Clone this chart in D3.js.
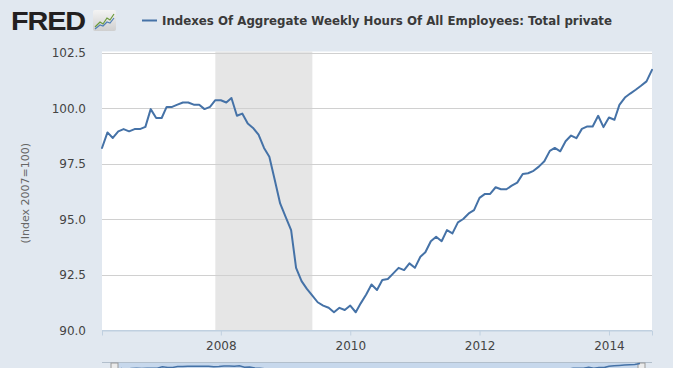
<!DOCTYPE html>
<html>
<head>
<meta charset="utf-8">
<script src="https://cdn.jsdelivr.net/npm/d3@7"></script>
<style>
  html, body { margin: 0; padding: 0; background: #e1e8f0; }
  svg { display: block; }
</style>
</head>
<body>
<svg id="chart" width="673" height="368"></svg>
<script>
// ---- Data ----
const seriesTitle = "Indexes Of Aggregate Weekly Hours Of All Employees: Total private";
const yAxisTitle = "(Index 2007=100)";
const startMonth = "2006-03-01";
const endMonth = "2014-09-01";
const values = [
  // 2006 Mar-Dec
  98.2, 98.9, 98.65, 98.95, 99.05, 98.95, 99.05, 99.05, 99.15, 99.95,
  // 2007
  99.55, 99.55, 100.05, 100.05, 100.15, 100.25, 100.25, 100.15, 100.15, 99.95, 100.05, 100.35,
  // 2008
  100.35, 100.25, 100.45, 99.65, 99.75, 99.3, 99.1, 98.8, 98.2, 97.8, 96.75, 95.7,
  // 2009
  95.1, 94.5, 92.8, 92.2, 91.85, 91.55, 91.25, 91.1, 91.0, 90.8, 91.0, 90.9,
  // 2010
  91.1, 90.8, 91.2, 91.6, 92.05, 91.8, 92.25, 92.3, 92.55, 92.8, 92.7, 93.0,
  // 2011
  92.8, 93.3, 93.5, 94.0, 94.2, 94.0, 94.5, 94.35, 94.85, 95.0, 95.25, 95.4,
  // 2012
  95.95, 96.13, 96.13, 96.43, 96.34, 96.34, 96.5, 96.64, 97.03, 97.06, 97.17, 97.36,
  // 2013
  97.6, 98.07, 98.2, 98.05, 98.5, 98.76, 98.64, 99.06, 99.17, 99.17, 99.65, 99.14,
  // 2014 Jan-Sep
  99.57, 99.47, 100.14, 100.47, 100.65, 100.82, 101.0, 101.2, 101.72
];
const recessionStart = "2007-12-01";
const recessionEnd = "2009-06-01";
const yTicks = [90.0, 92.5, 95.0, 97.5, 100.0, 102.5];
const xTickYears = [2008, 2010, 2012, 2014];

// ---- Layout ----
const plot = { left: 102, right: 652, top: 52.5, bottom: 330 };
const svg = d3.select("#chart");
const parse = d3.utcParse("%Y-%m-%d");
const months = d3.utcMonth.range(parse(startMonth), d3.utcMonth.offset(parse(endMonth), 1));
const data = months.map((d, i) => ({ date: d, value: values[i] }));

const x = d3.scaleUtc().domain([parse(startMonth), parse(endMonth)]).range([plot.left, plot.right]);
const y = d3.scaleLinear().domain([90, 102.5]).range([plot.bottom, plot.top]);

// Plot background
svg.append("rect")
  .attr("x", plot.left).attr("y", y(102.5) - 1)
  .attr("width", plot.right - plot.left).attr("height", plot.bottom - y(102.5) + 1)
  .attr("fill", "#ffffff");

// Recession band
svg.append("rect")
  .attr("x", x(parse(recessionStart))).attr("y", y(102.5) - 1)
  .attr("width", x(parse(recessionEnd)) - x(parse(recessionStart)))
  .attr("height", plot.bottom - y(102.5) + 1)
  .attr("fill", "#e6e6e6");

// Gridlines
svg.append("g").selectAll("line").data(yTicks).join("line")
  .attr("x1", plot.left).attr("x2", plot.right)
  .attr("y1", d => Math.round(y(d)) + 0.5).attr("y2", d => Math.round(y(d)) + 0.5)
  .attr("stroke", d => d === 90 ? "#c0d0e0" : "#d0d0d0").attr("stroke-width", 1);

// Y tick labels
svg.append("g").selectAll("text").data(yTicks).join("text")
  .attr("x", 86).attr("y", d => y(d)).attr("dy", "0.38em")
  .attr("text-anchor", "end")
  .attr("font-family", "DejaVu Sans, Verdana, sans-serif").attr("font-size", 12)
  .attr("fill", "#444")
  .text(d => d.toFixed(1));

// Y axis title
svg.append("text")
  .attr("transform", `translate(29, ${(y(102.5) + plot.bottom) / 2 + 2}) rotate(-90)`)
  .attr("text-anchor", "middle")
  .attr("font-family", "DejaVu Sans, Verdana, sans-serif").attr("font-size", 11)
  .attr("fill", "#666")
  .text(yAxisTitle);

// X axis
const xTickDates = xTickYears.map(yr => new Date(Date.UTC(yr, 0, 1)));
const xAxis = d3.axisBottom(x).tickValues(xTickDates).tickSize(5).tickFormat(d3.utcFormat("%Y"));
const gx = svg.append("g").attr("transform", `translate(0, ${plot.bottom + 0.5})`).call(xAxis);
gx.select(".domain").attr("stroke", "#c0d0e0");
gx.selectAll(".tick line").attr("stroke", "#c0d0e0");
gx.selectAll(".tick text")
  .attr("font-family", "DejaVu Sans, Verdana, sans-serif").attr("font-size", 12)
  .attr("fill", "#444").attr("dy", "0.95em");

// Series line
const line = d3.line().x(d => x(d.date)).y(d => y(d.value));
svg.append("path").datum(data)
  .attr("d", line)
  .attr("fill", "none").attr("stroke", "#4572a7").attr("stroke-width", 2)
  .attr("stroke-linejoin", "round").attr("stroke-linecap", "round");

// Navigator strip (partially visible at bottom)
svg.append("line")
  .attr("x1", plot.left).attr("x2", plot.right).attr("y1", 362.5).attr("y2", 362.5)
  .attr("stroke", "#b2bfcc");
svg.append("rect")
  .attr("x", 116).attr("y", 363).attr("width", 524).attr("height", 6)
  .attr("fill", "#c7d8ec");
svg.append("rect").attr("x", 111).attr("y", 363).attr("width", 7).attr("height", 6)
  .attr("fill", "#ebebeb").attr("stroke", "#999");
svg.append("rect").attr("x", 638).attr("y", 363).attr("width", 7).attr("height", 6)
  .attr("fill", "#ebebeb").attr("stroke", "#999");
const navY = d3.scaleLinear().domain([90, 102.5]).range([385, 362]);
const navLine = d3.line().x(d => 116 + (x(d.date) - plot.left) * 524 / (plot.right - plot.left)).y(d => navY(d.value));
svg.append("path").datum(data).attr("d", navLine)
  .attr("fill", "none").attr("stroke", "#4572a7").attr("stroke-width", 1.5);

// FRED logo
svg.append("text")
  .attr("x", 11).attr("y", 30)
  .attr("font-family", "Liberation Sans, Arial, sans-serif").attr("font-weight", "900")
  .attr("font-size", 26).attr("fill", "#231f20")
  .attr("textLength", 74).attr("lengthAdjust", "spacingAndGlyphs")
  .style("letter-spacing", "-1px")
  .text("FRED");
const icon = svg.append("g").attr("transform", "translate(93,10)");
const grad = svg.append("defs").append("linearGradient").attr("id", "ig").attr("x1", 0).attr("y1", 0).attr("x2", 0).attr("y2", 1);
grad.append("stop").attr("offset", 0).attr("stop-color", "#f4f4f4");
grad.append("stop").attr("offset", 1).attr("stop-color", "#cfcfcf");
icon.append("rect").attr("width", 23).attr("height", 21).attr("rx", 2).attr("fill", "url(#ig)");
icon.append("path").attr("d", "M2,17 L7,12 L10,14 L14,8 L17,10 L21,4")
  .attr("fill", "none").attr("stroke", "#6a9a3a").attr("stroke-width", 1.2);
icon.append("path").attr("d", "M2,19 L7,15 L10,16 L14,12 L17,13 L21,8")
  .attr("fill", "none").attr("stroke", "#4f7fb5").attr("stroke-width", 1.2);

// Legend
svg.append("line")
  .attr("x1", 142).attr("x2", 157).attr("y1", 20.5).attr("y2", 20.5)
  .attr("stroke", "#4572a7").attr("stroke-width", 2);
svg.append("text")
  .attr("x", 162).attr("y", 25)
  .attr("font-family", "DejaVu Sans, Verdana, sans-serif").attr("font-weight", "bold")
  .attr("font-size", 12.5).attr("fill", "#3a3a3a")
  .attr("textLength", 450).attr("lengthAdjust", "spacingAndGlyphs")
  .text(seriesTitle);
</script>
</body>
</html>
